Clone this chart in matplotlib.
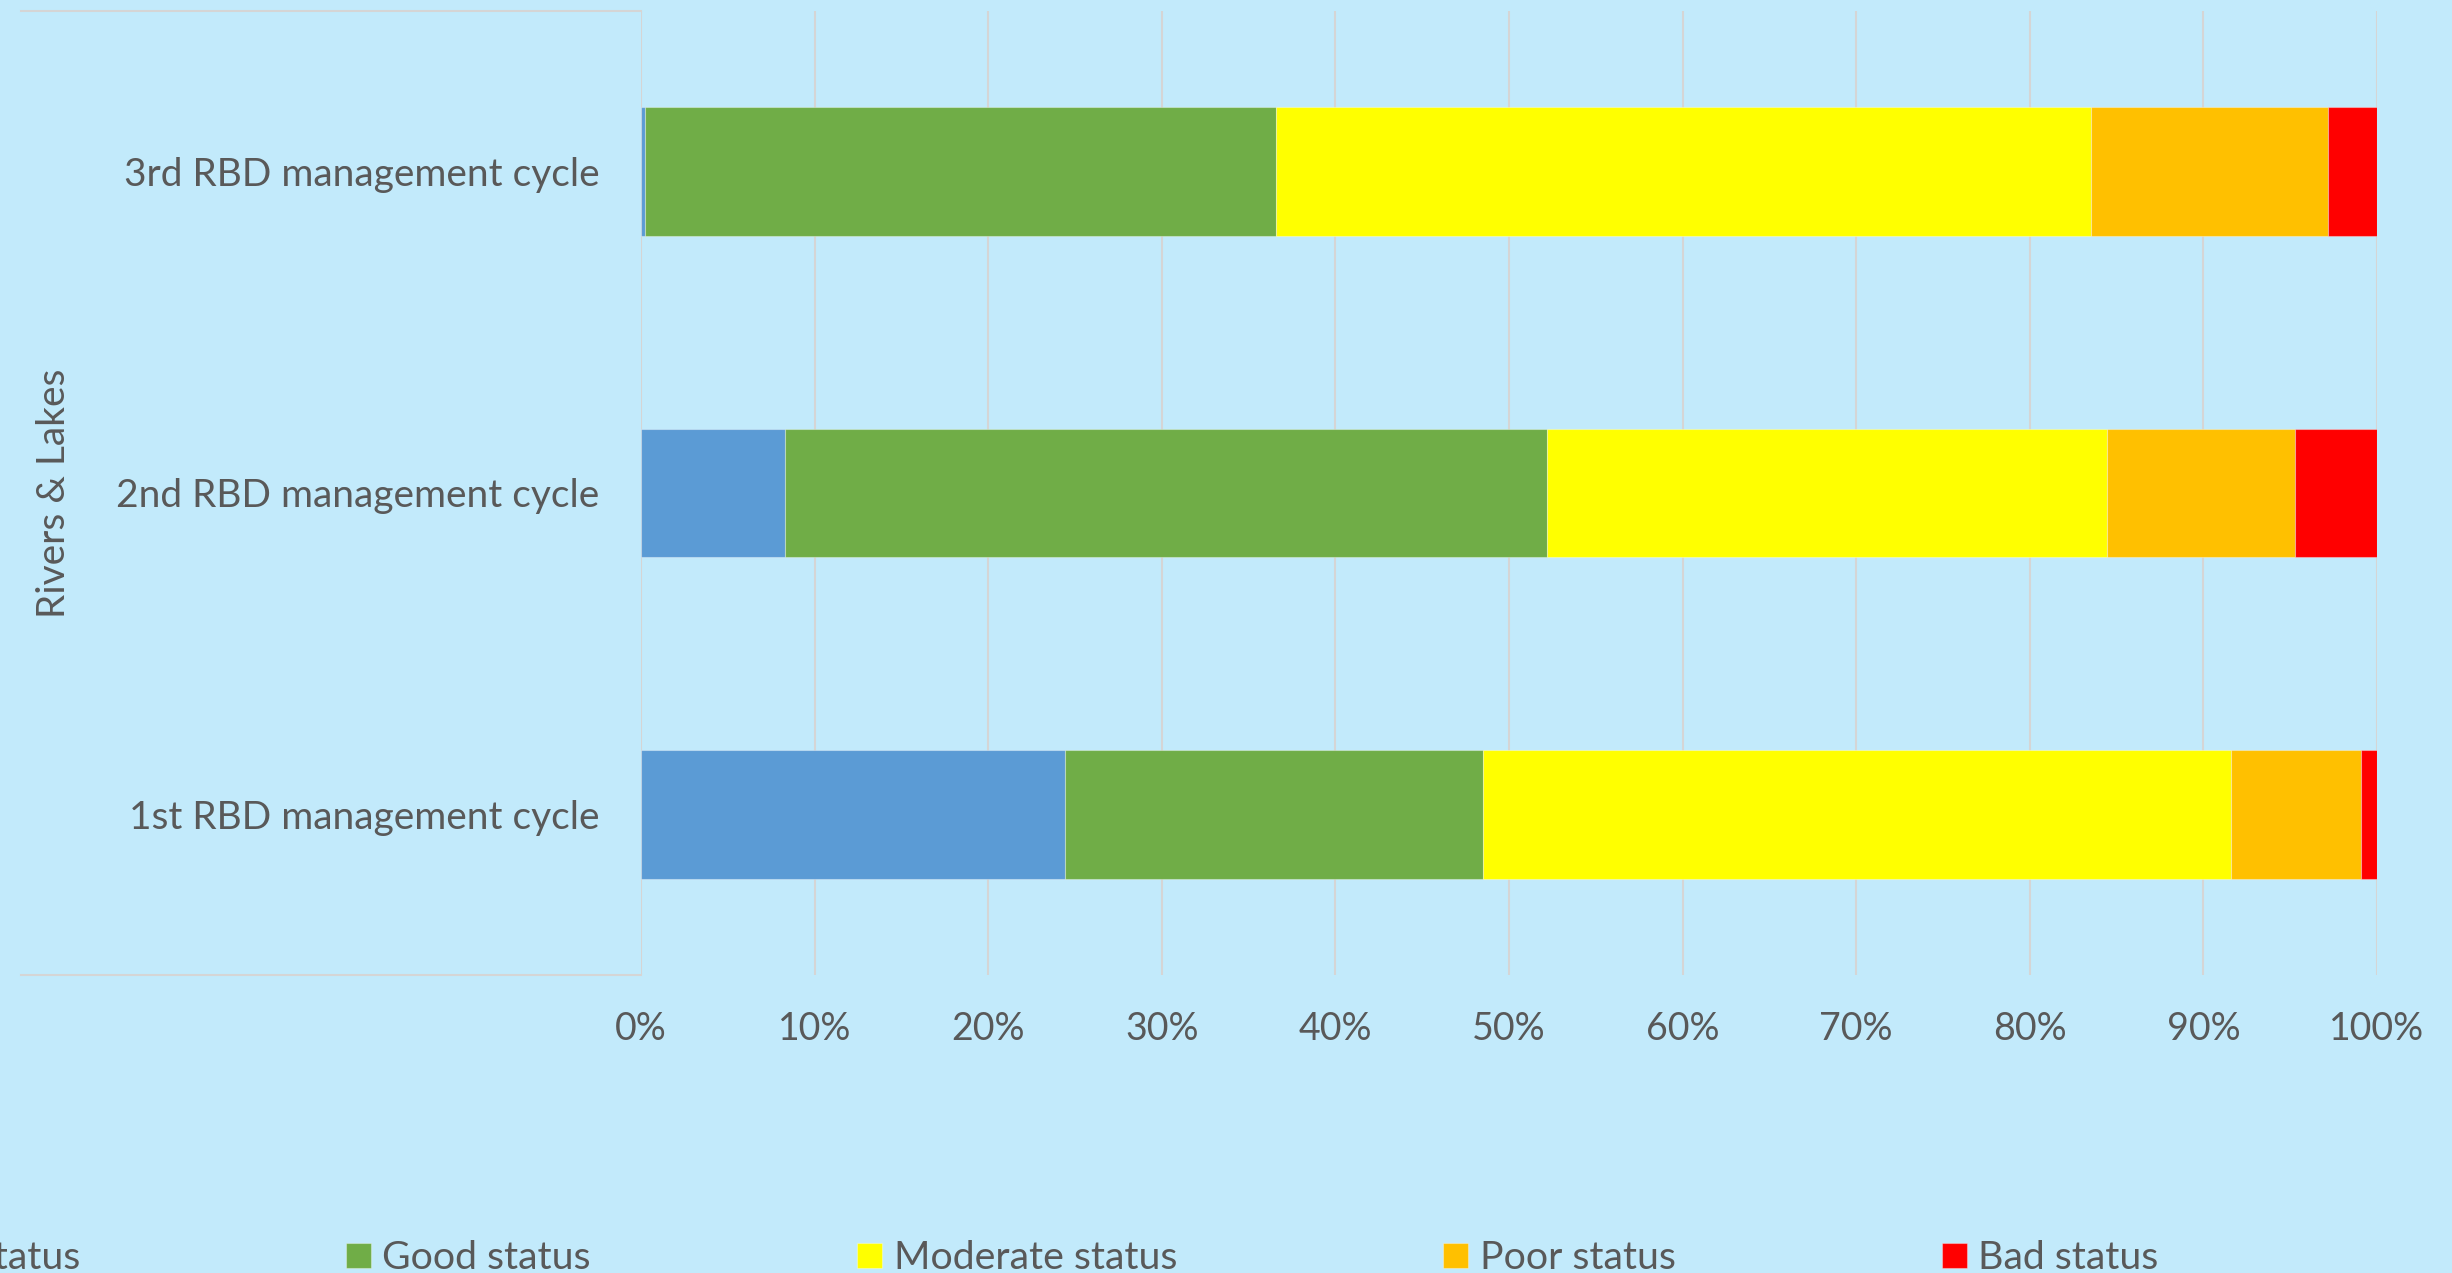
import matplotlib
matplotlib.use('Agg')
import matplotlib.pyplot as plt
import numpy as np

# data (percent of water bodies per status class)
cycles = ['1st RBD management cycle', '2nd RBD management cycle', '3rd RBD management cycle']
status_names = ['High status', 'Good status', 'Moderate status', 'Poor status', 'Bad status']
high = [24.4, 8.3, 0.25]
good = [24.1, 43.9, 36.35]
moderate = [43.1, 32.25, 46.9]
poor = [7.5, 10.85, 13.7]
bad = [0.9, 4.7, 2.8]

colors = ['#5B9BD5', '#70AD47', '#FFFF00', '#FFC000', '#FF0000']
bg = '#C2EAFB'
txt = '#595959'
grid_col = '#D5D5D5'

plt.rcParams['font.family'] = ['Lato', 'DejaVu Sans']

fig = plt.figure(figsize=(24.52, 12.73), dpi=100, facecolor=bg)
ax = fig.add_axes([0.2614, 0.2341, 0.708, 0.7573])
ax.set_facecolor(bg)

series = [high, good, moderate, poor, bad]
y = np.arange(len(cycles))
left = np.zeros(len(cycles))
for name, vals, c in zip(status_names, series, colors):
    vals = np.array(vals) / 100
    ax.barh(y, vals, left=left, height=0.4, color=c, label=name,
            edgecolor=(1, 1, 1, 0.35), linewidth=0.8, zorder=3)
    left += vals

ax.set_xlim(0, 1)
ax.set_ylim(-0.5, 2.5)
ax.set_xticks(np.arange(0, 1.01, 0.1))
ax.set_xticklabels([f'{i}%' for i in range(0, 101, 10)])
ax.set_yticks(y)
ax.set_yticklabels(cycles)
ax.tick_params(axis='both', length=0, labelsize=27, colors=txt)
ax.tick_params(axis='y', pad=30, labelsize=28)
ax.tick_params(axis='x', pad=26)
ax.grid(axis='x', color=grid_col, linewidth=1.5, zorder=0)
for s in ax.spines.values():
    s.set_visible(False)

# multi-level category divider lines
for yy in (0, 1):
    ax.plot([-0.357, 0], [yy, yy], transform=ax.transAxes, color=grid_col,
            linewidth=1.5, clip_on=False)

fig.text(54 / 2452, 1 - 493 / 1273, 'Rivers & Lakes', rotation=90,
         ha='center', va='center', fontsize=28, color=txt)

fig.legend(loc='center left', bbox_to_anchor=(-152 / 2452, 15 / 1273), ncol=5,
           frameon=False, fontsize=28.3, labelcolor=txt, borderpad=0,
           borderaxespad=0, columnspacing=6.77, handlelength=0.64,
           handleheight=0.61, handletextpad=0.29)

fig.savefig('out.png', dpi=100, facecolor=bg)
